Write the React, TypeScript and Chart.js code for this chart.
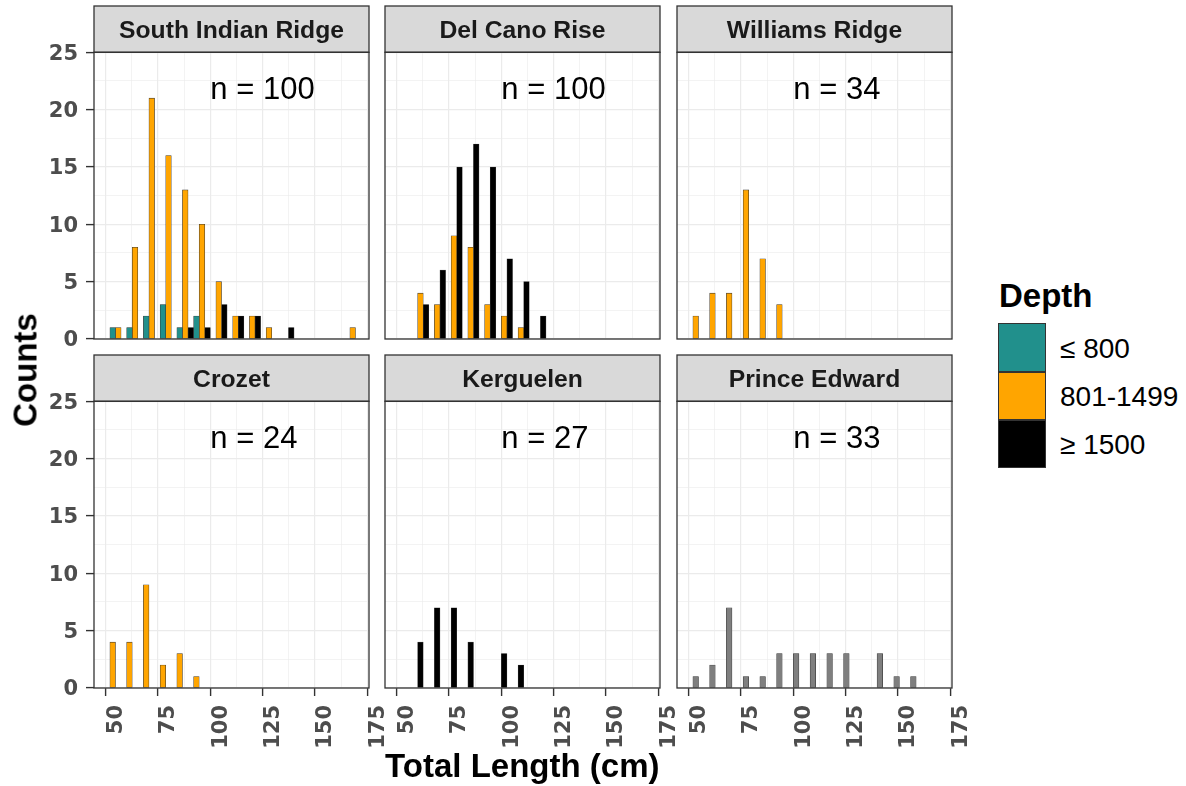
import React, { useEffect, useRef } from 'react';
import { Chart, registerables } from 'chart.js';

Chart.register(...registerables);

// ---------------- data ----------------
const binCenters = [56, 64, 72, 80, 88, 96, 104, 112, 120, 128, 136, 144, 152, 160, 168];

const depthLabels = ['≤ 800', '801-1499', '≥ 1500'];
const depthColors = ['#21908C', '#FFA500', '#000000'];
const naColor = '#7F7F7F';

const sirShallow = [1, 1, 2, 3, 1, 2, 0, 0, 0, 0, 0, 0, 0, 0, 0];
const sirMid = [1, 8, 21, 16, 13, 10, 5, 2, 2, 1, 0, 0, 0, 0, 1];
const sirDeep = [0, 0, 0, 0, 1, 1, 3, 2, 2, 0, 1, 0, 0, 0, 0];
const delCanoMid = [0, 4, 3, 9, 8, 3, 2, 1, 0, 0, 0, 0, 0, 0, 0];
const delCanoDeep = [0, 3, 6, 15, 17, 15, 7, 5, 2, 0, 0, 0, 0, 0, 0];
const williamsMid = [2, 4, 4, 13, 7, 3, 0, 0, 0, 0, 0, 0, 0, 0, 0];
const crozetMid = [4, 4, 9, 2, 3, 1, 0, 0, 0, 0, 0, 0, 0, 0, 0];
const kerguelenDeep = [0, 4, 7, 7, 4, 0, 3, 2, 0, 0, 0, 0, 0, 0, 0];
const princeEdwardNA = [1, 2, 7, 1, 1, 3, 3, 3, 3, 3, 0, 3, 1, 1, 0];

const panelNames = ['South Indian Ridge', 'Del Cano Rise', 'Williams Ridge', 'Crozet', 'Kerguelen', 'Prince Edward'];
const panelN = [100, 100, 34, 24, 27, 33];

const xMajorTicks = [50, 75, 100, 125, 150, 175];
const xMinorTicks = [62.5, 87.5, 112.5, 137.5, 162.5];
const yMajorTicks = [0, 5, 10, 15, 20, 25];
const yMinorTicks = [2.5, 7.5, 12.5, 17.5, 22.5];

type Series = { label: string; color: string; counts: number[] };
const panelSeries: Series[][] = [
  [
    { label: depthLabels[0], color: depthColors[0], counts: sirShallow },
    { label: depthLabels[1], color: depthColors[1], counts: sirMid },
    { label: depthLabels[2], color: depthColors[2], counts: sirDeep },
  ],
  [
    { label: depthLabels[1], color: depthColors[1], counts: delCanoMid },
    { label: depthLabels[2], color: depthColors[2], counts: delCanoDeep },
  ],
  [{ label: depthLabels[1], color: depthColors[1], counts: williamsMid }],
  [{ label: depthLabels[1], color: depthColors[1], counts: crozetMid }],
  [{ label: depthLabels[2], color: depthColors[2], counts: kerguelenDeep }],
  [{ label: 'NA', color: naColor, counts: princeEdwardNA }],
];

// ---------------- layout ----------------
const X_MIN = 44.4;
const X_MAX = 175.8;
const Y_MIN = 0;
const Y_MAX = 25;
const N_LABEL_X = 100;
const N_LABEL_Y = 22;
const DODGE_SLOTS = 3;

const COL_LEFT = [94, 385, 676.5];
const PW = 274.3;
const STRIP_TOP = [6, 355.3];
const STRIP_H = 46.3;
const PH = 286.7;
const EXTRA = 3;

const SANS = "'Liberation Sans', Arial, Helvetica, sans-serif";
const TICK_FONT = "'DejaVu Sans', 'Liberation Sans', sans-serif";

function Panel({ idx }: { idx: number }) {
  const ref = useRef<HTMLCanvasElement>(null);
  const r = Math.floor(idx / 3);
  const c = idx % 3;
  const yW = c === 0 ? 94 : EXTRA;
  const xH = r === 1 ? 70 : 14;
  const rightPad = r === 1 ? 24 : EXTRA;
  const left = COL_LEFT[c] - yW;
  const top = STRIP_TOP[r] - EXTRA;
  const width = Math.ceil(yW + PW + rightPad);
  const height = Math.ceil(EXTRA + STRIP_H + PH + xH);

  useEffect(() => {
    if (!ref.current) return;
    const series = panelSeries[idx];
    const datasets: any[] = series.map((s) => ({
      label: s.label,
      data: s.counts.map((v, i) => ({ x: binCenters[i], y: v })),
      backgroundColor: s.color,
      borderColor: '#333333',
      borderWidth: 0.6,
      borderSkipped: false,
      barPercentage: 1,
      categoryPercentage: 1,
    }));
    while (datasets.length < DODGE_SLOTS) {
      datasets.push({ label: '', data: [], barPercentage: 1, categoryPercentage: 1 });
    }

    const facetPlugin = {
      id: 'facet',
      afterDraw(chart: any) {
        const { ctx, chartArea: a, scales } = chart;
        const w = a.right - a.left;
        ctx.save();
        // strip
        ctx.fillStyle = '#D9D9D9';
        ctx.fillRect(a.left, a.top - STRIP_H, w, STRIP_H);
        ctx.strokeStyle = '#333333';
        ctx.lineWidth = 1.3;
        ctx.strokeRect(a.left, a.top - STRIP_H, w, STRIP_H);
        ctx.fillStyle = '#1A1A1A';
        ctx.font = `bold 24.7px ${SANS}`;
        ctx.textAlign = 'center';
        ctx.textBaseline = 'alphabetic';
        ctx.fillText(panelNames[idx], (a.left + a.right) / 2, a.top - STRIP_H / 2 + 0.358 * 24.7);
        // panel border
        ctx.strokeRect(a.left, a.top, w, a.bottom - a.top);
        // n label
        ctx.fillStyle = '#000000';
        ctx.font = `31px ${SANS}`;
        ctx.textAlign = 'left';
        ctx.fillText(
          `n = ${panelN[idx]}`,
          scales.x.getPixelForValue(N_LABEL_X),
          scales.y.getPixelForValue(N_LABEL_Y) + 12.5
        );
        ctx.restore();
      },
    };

    const isMajorX = (v: number) => xMajorTicks.includes(v);
    const isMajorY = (v: number) => yMajorTicks.includes(v);

    const chart = new Chart(ref.current, {
      type: 'bar',
      data: { datasets },
      plugins: [facetPlugin],
      options: {
        animation: false,
        responsive: false,
        maintainAspectRatio: false,
        devicePixelRatio: 1,
        layout: { padding: { top: EXTRA + STRIP_H, left: 0, right: rightPad, bottom: 0 } },
        plugins: { legend: { display: false }, tooltip: { enabled: false } },
        scales: {
          x: {
            type: 'linear',
            offset: false,
            min: X_MIN,
            max: X_MAX,
            afterBuildTicks: (s: any) => {
              s.ticks = [...xMajorTicks, ...xMinorTicks].sort((a, b) => a - b).map((v) => ({ value: v }));
            },
            afterFit: (s: any) => {
              s.height = xH;
              s.paddingLeft = 0;
              s.paddingRight = 0;
            },
            border: { display: false },
            grid: {
              offset: false,
              color: '#EBEBEB',
              lineWidth: (ctx: any) => (ctx.tick && isMajorX(ctx.tick.value) ? 1.2 : 0.6),
              drawTicks: r === 1,
              tickLength: 8,
              tickWidth: 1.4,
              tickColor: (ctx: any) => (ctx.tick && isMajorX(ctx.tick.value) ? '#333333' : 'rgba(0,0,0,0)'),
            },
            ticks: {
              display: r === 1,
              autoSkip: false,
              minRotation: 90,
              maxRotation: 90,
              padding: 9,
              labelOffset: 11,
              color: '#4D4D4D',
              font: { family: TICK_FONT, size: 21, weight: 'bold' },
              callback: (v: any) => (isMajorX(Number(v)) ? String(v) : ''),
            },
          },
          y: {
            type: 'linear',
            min: Y_MIN,
            max: Y_MAX,
            afterBuildTicks: (s: any) => {
              s.ticks = [...yMajorTicks, ...yMinorTicks].sort((a, b) => a - b).map((v) => ({ value: v }));
            },
            afterFit: (s: any) => {
              s.width = yW;
              s.paddingTop = 0;
              s.paddingBottom = 0;
            },
            border: { display: false },
            grid: {
              color: '#EBEBEB',
              lineWidth: (ctx: any) => (ctx.tick && isMajorY(ctx.tick.value) ? 1.2 : 0.6),
              drawTicks: c === 0,
              tickLength: 8,
              tickWidth: 1.4,
              tickColor: (ctx: any) => (ctx.tick && isMajorY(ctx.tick.value) ? '#333333' : 'rgba(0,0,0,0)'),
            },
            ticks: {
              display: c === 0,
              autoSkip: false,
              padding: 8,
              labelOffset: 2,
              color: '#4D4D4D',
              font: { family: TICK_FONT, size: 21, weight: 'bold' },
              callback: (v: any) => (isMajorY(Number(v)) ? String(v) : ''),
            },
          },
        },
      } as any,
    });
    return () => chart.destroy();
  }, [idx]);

  return (
    <canvas
      ref={ref}
      width={width}
      height={height}
      style={{ position: 'absolute', left, top, width, height }}
    />
  );
}

const legendKeyTops = [323.3, 371.6, 419.9];
const KEY_H = 48.3;

export default function App() {
  useEffect(() => {
    document.body.style.margin = '0';
  }, []);
  return (
    <div
      style={{
        position: 'fixed',
        left: 0,
        top: 0,
        width: 1186,
        height: 786,
        background: '#ffffff',
        overflow: 'hidden',
        fontFamily: SANS,
      }}
    >
      {panelNames.map((_, i) => (
        <Panel key={i} idx={i} />
      ))}
      {/* y axis title */}
      <div
        style={{
          position: 'absolute',
          left: 25,
          top: 370,
          transform: 'translate(-50%, -50%) rotate(-90deg)',
          fontSize: 33,
          fontWeight: 'bold',
          lineHeight: 1,
          whiteSpace: 'nowrap',
          color: '#000',
        }}
      >
        Counts
      </div>
      {/* x axis title */}
      <div
        style={{
          position: 'absolute',
          left: 522.3,
          top: 749,
          transform: 'translateX(-50%)',
          fontSize: 33,
          fontWeight: 'bold',
          lineHeight: 1,
          whiteSpace: 'nowrap',
          color: '#000',
        }}
      >
        Total Length (cm)
      </div>
      {/* legend */}
      <div
        style={{
          position: 'absolute',
          left: 999,
          top: 278.5,
          fontSize: 33,
          fontWeight: 'bold',
          lineHeight: 1,
          whiteSpace: 'nowrap',
          color: '#000',
        }}
      >
        Depth
      </div>
      {depthLabels.map((lab, i) => (
        <React.Fragment key={lab}>
          <div
            style={{
              position: 'absolute',
              left: 998.3,
              top: legendKeyTops[i],
              width: 47.7,
              height: KEY_H,
              boxSizing: 'border-box',
              background: depthColors[i],
              border: '0.6px solid #333333',
            }}
          />
          <div
            style={{
              position: 'absolute',
              left: 1060,
              top: legendKeyTops[i] + KEY_H / 2 + 1 - 13.7,
              fontSize: 28,
              lineHeight: 1,
              whiteSpace: 'nowrap',
              color: '#000',
            }}
          >
            {lab}
          </div>
        </React.Fragment>
      ))}
    </div>
  );
}
